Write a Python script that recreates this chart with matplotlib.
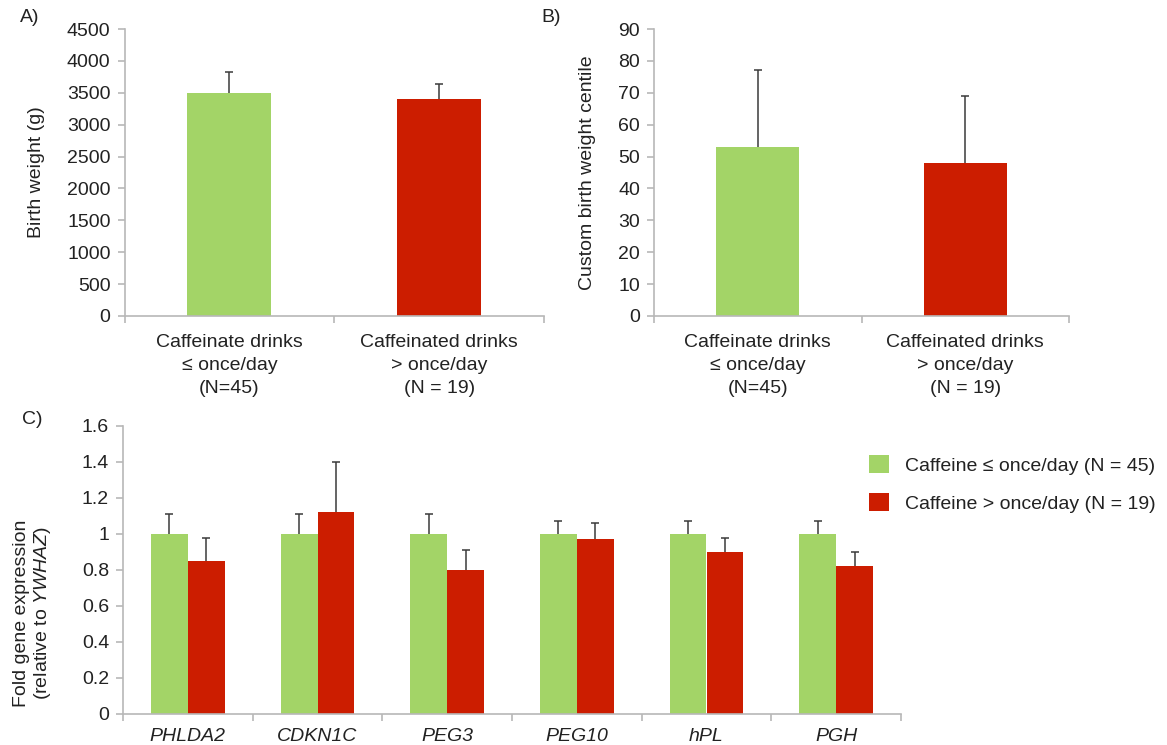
import matplotlib
matplotlib.use("Agg")
import matplotlib.pyplot as plt
from matplotlib.ticker import FixedLocator, FuncFormatter
import numpy as np

plt.rcParams['font.family'] = ['Liberation Sans', 'DejaVu Sans']
plt.rcParams['font.size'] = 14
plt.rcParams['mathtext.fontset'] = 'custom'
plt.rcParams['mathtext.rm'] = 'Liberation Sans'
plt.rcParams['mathtext.it'] = 'Liberation Sans:italic'

# data
groups_ab = ['Caffeinate drinks\n≤ once/day\n(N=45)',
             'Caffeinated drinks\n> once/day\n(N = 19)']
birth_weight = [3500, 3400]
birth_weight_err = [330, 240]
centile = [53, 48]
centile_err = [24, 21]

genes = ['PHLDA2', 'CDKN1C', 'PEG3', 'PEG10', 'hPL', 'PGH']
low_caff = [1.0, 1.0, 1.0, 1.0, 1.0, 1.0]
low_caff_err = [0.11, 0.11, 0.11, 0.07, 0.07, 0.07]
high_caff = [0.85, 1.12, 0.80, 0.97, 0.90, 0.82]
high_caff_err = [0.13, 0.28, 0.11, 0.09, 0.08, 0.08]
legend_labels = ['Caffeine ≤ once/day (N = 45)', 'Caffeine > once/day (N = 19)']

green = '#a3d467'
red = '#cc1d00'
axis_col = '#b8b8b8'
err_col = '#3a3a3a'
txt_col = '#222222'

W, H = 1167, 745
fig = plt.figure(figsize=(W / 100, H / 100), dpi=100)


def add_ax(l, t, r, b):
    return fig.add_axes([l / W, 1 - b / H, (r - l) / W, (b - t) / H])


def style(ax, n):
    for s in ['top', 'right']:
        ax.spines[s].set_visible(False)
    for s in ['left', 'bottom']:
        ax.spines[s].set_color(axis_col)
        ax.spines[s].set_linewidth(1.2)
    ax.set_xlim(-0.5, n - 0.5)
    ax.set_xticks(range(n))
    ax.tick_params(axis='x', which='major', length=0, pad=13, colors=txt_col)
    ax.xaxis.set_minor_locator(FixedLocator(np.arange(n + 1) - 0.5))
    ax.tick_params(axis='x', which='minor', length=5, color=axis_col, width=1.2)
    ax.tick_params(axis='y', length=5, color=axis_col, width=1.2, pad=5,
                   labelcolor=txt_col)


def drop_low_caps(bars, means):
    # keep only the upper cap of each error bar
    for cl in bars.errorbar.lines[1]:
        if np.allclose(cl.get_ydata(), means):
            cl.set_visible(False)


ekw = dict(elinewidth=1.1, ecolor=err_col, capthick=1.1)

# A) birth weight
axA = add_ax(124.5, 29, 544, 316)
x = np.arange(2)
bA = axA.bar(x, birth_weight, width=0.4, color=[green, red],
             yerr=[[0, 0], birth_weight_err], capsize=3, error_kw=ekw)
drop_low_caps(bA, birth_weight)
style(axA, 2)
axA.set_ylim(0, 4500)
axA.set_yticks(np.arange(0, 4501, 500))
axA.set_xticklabels(groups_ab, linespacing=1.45)
axA.set_ylabel('Birth weight (g)', labelpad=16, color=txt_col)

# B) centile
axB = add_ax(654, 29, 1069, 316)
bB = axB.bar(x, centile, width=0.4, color=[green, red],
             yerr=[[0, 0], centile_err], capsize=3, error_kw=ekw)
drop_low_caps(bB, centile)
style(axB, 2)
axB.set_ylim(0, 90)
axB.set_yticks(np.arange(0, 91, 10))
axB.set_xticklabels(groups_ab, linespacing=1.45)
axB.set_ylabel('Custom birth weight centile', labelpad=16, color=txt_col)

# C) gene expression
axC = add_ax(123, 426, 901, 714)
xc = np.arange(len(genes))
bw = 0.284
b1 = axC.bar(xc - bw / 2, low_caff, width=bw, color=green,
             yerr=[np.zeros(len(genes)), low_caff_err], capsize=3, error_kw=ekw)
b2 = axC.bar(xc + bw / 2, high_caff, width=bw, color=red,
             yerr=[np.zeros(len(genes)), high_caff_err], capsize=3, error_kw=ekw)
drop_low_caps(b1, low_caff)
drop_low_caps(b2, high_caff)
style(axC, len(genes))
axC.tick_params(axis='x', which='major', pad=10)
axC.set_ylim(0, 1.6)
axC.set_yticks(np.arange(0, 1.61, 0.2))
axC.yaxis.set_major_formatter(FuncFormatter(lambda v, p: f'{v:g}'))
axC.set_xticklabels(genes, style='italic')
axC.set_ylabel('Fold gene expression\n(relative to $\\mathit{YWHAZ}$)',
               color=txt_col, linespacing=1.1)
axC.yaxis.set_label_coords(-0.09, 0.35)

fig.legend([b1, b2], legend_labels, loc='upper left',
           bbox_to_anchor=(869 / W, 1 - 455 / H), frameon=False,
           borderpad=0, borderaxespad=0, handlelength=1.05, handleheight=1.05,
           handletextpad=0.8, labelspacing=0.95, labelcolor=txt_col)

fig.text(20 / W, 1 - 18 / H, 'A)', va='center', color=txt_col)
fig.text(541 / W, 1 - 17 / H, 'B)', va='center', color=txt_col)
fig.text(22 / W, 1 - 419 / H, 'C)', va='center', color=txt_col)

fig.savefig('out.png', dpi=100)
